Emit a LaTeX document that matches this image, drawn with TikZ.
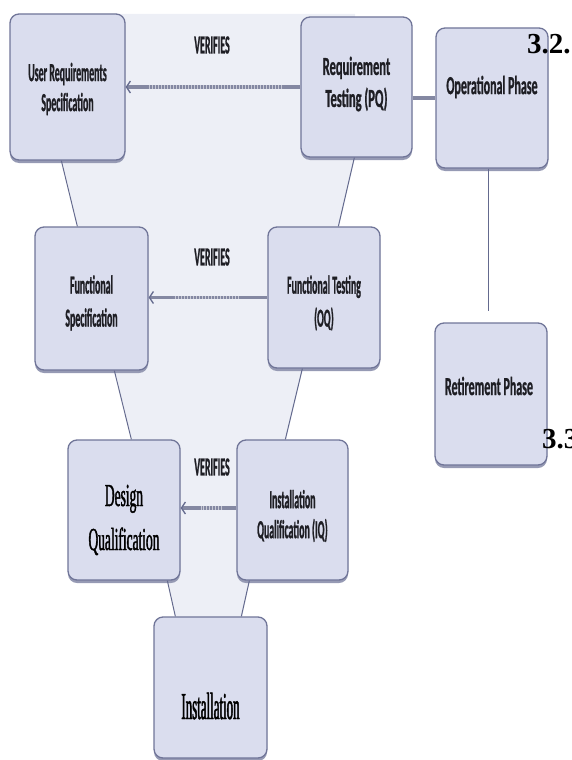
\documentclass[tikz,border=0pt]{standalone}
\usepackage{fontspec}
\setmainfont{Liberation Serif}
\newfontfamily\boxfont[FakeStretch=0.38,FakeBold=0.8]{Carlito}
\newfontfamily\widefont[FakeStretch=0.46,FakeBold=0.8]{Carlito}
\newfontfamily\pqfont[FakeStretch=0.48,FakeBold=0.8]{Carlito}
\newfontfamily\dqfont[FakeStretch=0.42,FakeBold=1.2]{Liberation Serif}
\newfontfamily\instfont[FakeStretch=0.34,FakeBold=1.2]{Liberation Serif}
\usetikzlibrary{arrows.meta,shadows,calc}
\definecolor{boxfill}{RGB}{218,221,238}
\definecolor{boxdraw}{RGB}{112,117,152}
\definecolor{boxshade}{RGB}{150,154,180}
\definecolor{bgfill}{RGB}{237,239,246}
\definecolor{linec}{RGB}{100,106,142}
\definecolor{verline}{RGB}{132,136,162}
\definecolor{txt}{RGB}{30,30,36}
\tikzset{
  vbox/.style={draw=boxdraw, line width=1.3pt, fill=boxfill, rounded corners=9pt,
    inner sep=0pt,
    drop shadow={shadow xshift=0pt, shadow yshift=-3pt, fill=boxshade, opacity=1}},
  btext/.style={inner sep=0pt, align=center, text=txt,
    font=\boxfont\bfseries\fontsize{26}{30}\selectfont},
  link/.style={draw=linec, line width=1pt},
  thickln/.style={draw=verline, line width=3.5pt},
  verarrow/.style={draw=verline, line width=3.5pt},
  verdots/.style={draw=white, line width=3.5pt, dash pattern=on 1.3pt off 1.7pt, opacity=0.55},
  numlabel/.style={inner sep=0pt, anchor=base west, text=black, font=\bfseries\fontsize{29}{30}\selectfont}
}
\begin{document}
\begin{tikzpicture}[x=1pt,y=1pt]
\useasboundingbox (0,0) rectangle (571,-760);
\clip (0,0) rectangle (571,-760);
% background band of the V
\fill[bgfill] (62,-14) -- (355,-14) -- (355,-157) -- (339,-227) -- (303,-368) -- (286,-440)
  -- (250,-580) -- (242,-617) -- (176,-617) -- (168,-580) -- (132,-440) -- (115,-370)
  -- (78,-227) -- (62,-160) -- cycle;
% boxes
\node[vbox, minimum width=115pt, minimum height=146pt] (urs) at (67.5,-87) {};
\node[vbox, minimum width=111pt, minimum height=140pt] (pq) at (356.5,-87) {};
\node[vbox, minimum width=112pt, minimum height=140pt] (op) at (492,-98) {};
\node[vbox, minimum width=112pt, minimum height=142pt] (ret) at (491,-394) {};
\node[vbox, minimum width=113pt, minimum height=143pt] (fs) at (91.5,-298.5) {};
\node[vbox, minimum width=112pt, minimum height=141pt] (ft) at (324,-297.5) {};
\node[vbox, minimum width=112pt, minimum height=140pt] (dq) at (124,-510) {};
\node[vbox, minimum width=111pt, minimum height=140pt] (iq) at (292.5,-510) {};
\node[vbox, minimum width=113pt, minimum height=141pt] (inst) at (210.5,-687.5) {};
% box texts
\node[btext] (urs-t) at (67.5,-89) {User Requirements\\Specification};
\node[btext, font=\pqfont\bfseries\fontsize{26}{32}\selectfont] (pq-t) at (356.5,-84) {Requirement\\Testing (PQ)};
\node[btext, font=\widefont\bfseries\fontsize{26}{30}\selectfont] (op-t) at (492,-87) {Operational Phase};
\node[btext, font=\widefont\bfseries\fontsize{26}{30}\selectfont] (ret-t) at (489,-386) {Retirement Phase};
\node[btext, font=\boxfont\bfseries\fontsize{26}{33}\selectfont] (fs-t) at (91.5,-303) {Functional\\Specification};
\node[btext, font=\boxfont\bfseries\fontsize{26}{33}\selectfont] (ft-t) at (324,-303) {Functional Testing\\(OQ)};
\node[btext, text=black, font=\dqfont\fontsize{32}{44}\selectfont] (dq-t) at (124,-520) {Design\\Qualification};
\node[btext] (iq-t) at (292.5,-516) {Installation\\Qualification (IQ)};
\node[btext, text=black, font=\instfont\fontsize{38}{40}\selectfont] (inst-t) at (210.5,-706) {Installation};
% V connectors
\draw[link] ([xshift=52pt]urs.south west) -- ([xshift=43pt]fs.north west);
\draw[link] ([xshift=54pt]pq.south west) -- ([xshift=71pt]ft.north west);
\draw[link] ([xshift=80pt]fs.south west) -- ([xshift=64pt]dq.north west);
\draw[link] ([xshift=35pt]ft.south west) -- ([xshift=49pt]iq.north west);
\draw[link] ([xshift=100pt]dq.south west) -- ([xshift=22pt]inst.north west);
\draw[link] ([xshift=13pt]iq.south west) -- ([xshift=88pt]inst.north west);
\draw[thickln] ([yshift=-11pt]pq.east) -- ([yshift=-11pt]pq.east -| op.west);
\draw[link] ([xshift=-4pt]op.south) -- ([xshift=-3pt, yshift=11pt]ret.north);
% VERIFIES arrows
\draw[verarrow, -{Straight Barb[line width=1.3pt, length=4pt, width=12pt, color=linec]}] (pq.west) -- (urs.east);
\draw[verdots, shorten <=18pt, shorten >=23pt] (pq.west) -- (urs.east);
\draw[verarrow, -{Straight Barb[line width=1.3pt, length=4pt, width=12pt, color=linec]}] (ft.west) -- (fs.east |- ft.west);
\draw[verdots, shorten <=28pt, shorten >=25pt] (ft.west) -- (fs.east |- ft.west);
\draw[verarrow, -{Straight Barb[line width=1.3pt, length=4pt, width=12pt, color=linec]}] ([yshift=2pt]iq.west) -- ([yshift=2pt]dq.east);
\draw[verdots, shorten <=14pt, shorten >=20pt] ([yshift=2pt]iq.west) -- ([yshift=2pt]dq.east);
\node[btext] (v1) at (212,-45) {VERIFIES};
\node[btext] (v2) at (212,-257) {VERIFIES};
\node[btext] (v3) at (212,-467) {VERIFIES};
\node[numlabel] (n32) at (527,-53) {3.2.};
\node[numlabel] (n33) at (542,-448) {3.3};
\end{tikzpicture}
\end{document}
